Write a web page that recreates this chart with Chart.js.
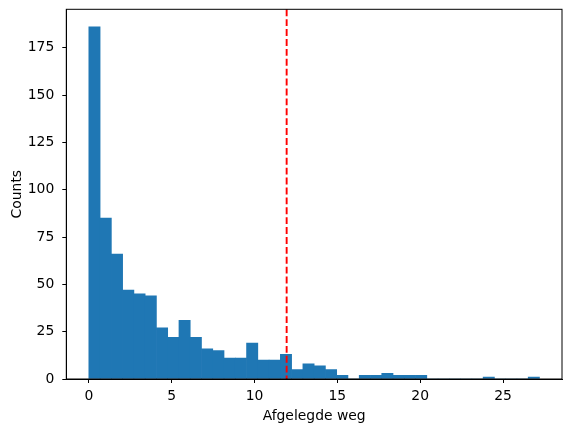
<!DOCTYPE html>
<html>
<head>
<meta charset="utf-8">
<script src="https://cdn.jsdelivr.net/npm/chart.js@4/dist/chart.umd.min.js"></script>
<style>
  html, body { margin: 0; padding: 0; background: #fff; }
  #wrap { width: 571px; height: 432px; position: relative; }
</style>
</head>
<body>
<div id="wrap"><canvas id="hist"></canvas></div>
<script>
// histogram: 40 bins between 0 and 27.2
const binStart = 0;
const binWidth = 0.68;
const counts = [186, 85, 66, 47, 45, 44, 27, 22, 31, 22,
                16, 15, 11, 11, 19, 10, 10, 13, 5, 8,
                7, 5, 2, 0, 2, 2, 3, 2, 2, 2,
                0, 0, 0, 0, 0, 1, 0, 0, 0, 1];
const xTicks = [0, 5, 10, 15, 20, 25];
const yTicks = [0, 25, 50, 75, 100, 125, 150, 175];
const cutoff = 11.94;

const FONT = { family: 'DejaVu Sans', size: 13.9 };

const binCenters = counts.map((_, i) => binStart + binWidth * (i + 0.5));
const points = counts.map((c, i) => ({ x: binCenters[i], y: c }));

// frame + red dashed line
const overlay = {
    id: 'overlay',
    afterDatasetsDraw(chart) {
        const { ctx, chartArea: a, scales } = chart;
        const x = scales.x.getPixelForValue(cutoff);
        ctx.save();
        ctx.strokeStyle = '#ff0000';
        ctx.lineWidth = 1.9;
        ctx.setLineDash([6.9, 3]);
        ctx.beginPath();
        ctx.moveTo(x, a.top);
        ctx.lineTo(x, a.bottom);
        ctx.stroke();
        ctx.setLineDash([]);
        ctx.strokeStyle = '#000';
        ctx.lineWidth = 1;
        ctx.strokeRect(a.left, a.top, a.right - a.left, a.bottom - a.top);
        ctx.restore();
    }
};

const noEdgePadding = s => {
    s.paddingTop = 0; s.paddingBottom = 0;
    s.paddingLeft = 0; s.paddingRight = 0;
};

new Chart(document.getElementById('hist'), {
    type: 'bar',
    data: {
        datasets: [{
            data: points,
            backgroundColor: '#1f77b4',
            borderWidth: 0,
            barPercentage: 1,
            categoryPercentage: 1
        }]
    },
    options: {
        responsive: true,
        maintainAspectRatio: false,
        animation: false,
        layout: { padding: { top: 9.3, right: 9, left: 0, bottom: 0 } },
        plugins: { legend: { display: false }, tooltip: { enabled: false } },
        scales: {
            x: {
                type: 'linear',
                offset: false,
                min: -1.36,
                max: 28.56,
                afterBuildTicks: s => { s.ticks = xTicks.map(v => ({ value: v })); },
                afterFit: s => { s.height = 53; noEdgePadding(s); },
                grid: { display: true, drawOnChartArea: false, drawTicks: true, tickLength: 4, color: '#000', offset: false },
                border: { display: true, color: '#000', width: 1 },
                ticks: { color: '#000', font: FONT, padding: 5.5, maxRotation: 0 },
                title: { display: true, text: 'Afgelegde weg', color: '#000', font: FONT, padding: { top: 0, bottom: 7.7 } }
            },
            y: {
                min: 0,
                max: 195.3,
                afterBuildTicks: s => { s.ticks = yTicks.map(v => ({ value: v })); },
                afterFit: s => { s.width = 66.3; noEdgePadding(s); },
                grid: { display: true, drawOnChartArea: false, drawTicks: true, tickLength: 4, color: '#000' },
                border: { display: true, color: '#000', width: 1 },
                ticks: { color: '#000', font: FONT, padding: 8 },
                title: { display: true, text: 'Counts', color: '#000', font: FONT, padding: { top: 8.7, bottom: 0 } }
            }
        }
    },
    plugins: [overlay]
});
</script>
</body>
</html>
